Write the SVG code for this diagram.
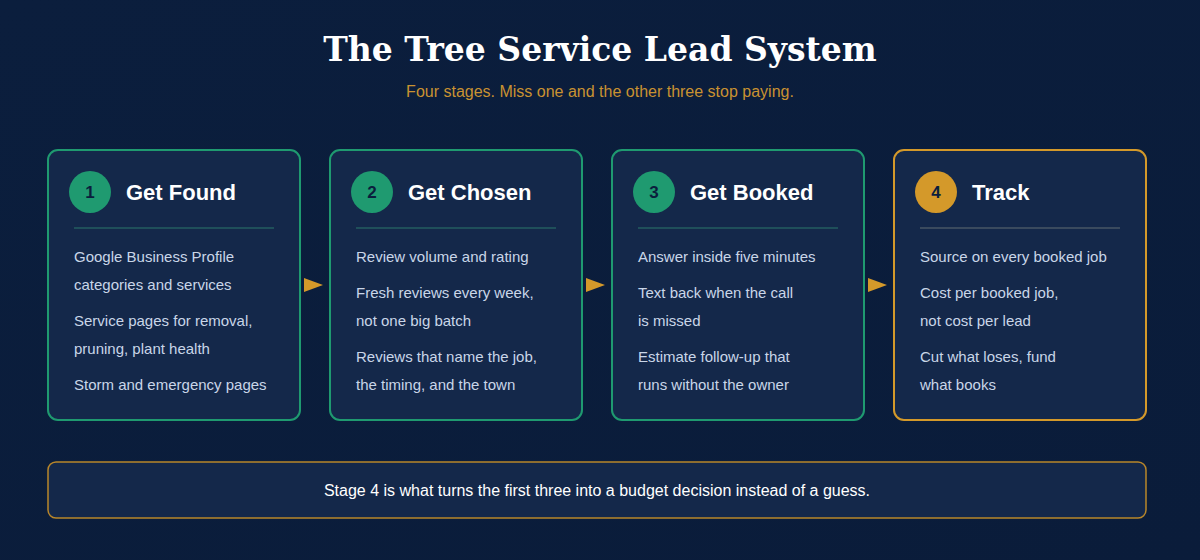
<svg xmlns="http://www.w3.org/2000/svg" width="1200" height="560" viewBox="0 0 1200 560">
<defs>
<linearGradient id="bg" x1="0" y1="0" x2="1" y2="1"><stop offset="0" stop-color="#0b1e3d"/><stop offset="1" stop-color="#0a1c3a"/></linearGradient>
</defs>
<style>
.card{fill:#14284a;stroke-width:2}
.g{stroke:#1f9a70}.o{stroke:#d4992a}
.t{font-family:"Liberation Sans",Arial,sans-serif;font-weight:bold;font-size:22px;fill:#fff}
.n{font-family:"Liberation Sans",Arial,sans-serif;font-weight:bold;font-size:17px;fill:#0b1e3d;text-anchor:middle}
.b{font-family:"Liberation Sans",Arial,sans-serif;font-size:15px;fill:#c9d6e8}
.div{stroke:#1f4f5a;stroke-width:2}
.arr{fill:#d4992a}
</style>
<rect width="1200" height="560" fill="url(#bg)"/>
<text x="600" y="61" text-anchor="middle" font-family="'DejaVu Serif',serif" font-weight="bold" font-size="33" fill="#fff">The Tree Service Lead System</text>
<text x="600" y="97" text-anchor="middle" font-family="'Liberation Sans',Arial,sans-serif" font-size="16" fill="#c99231">Four stages. Miss one and the other three stop paying.</text>
<g id="stage1">
<rect class="card g" x="48" y="150" width="252" height="270" rx="10"/>
<circle cx="90" cy="192" r="21" fill="#1f9a70"/><text class="n" x="90" y="198">1</text>
<text class="t" x="126" y="200">Get Found</text>
<line class="div" x1="74" y1="228" x2="274" y2="228"/>
<text class="b" x="74" y="262">Google Business Profile</text>
<text class="b" x="74" y="290">categories and services</text>
<text class="b" x="74" y="326">Service pages for removal,</text>
<text class="b" x="74" y="354">pruning, plant health</text>
<text class="b" x="74" y="390">Storm and emergency pages</text>
</g>
<g id="stage2">
<rect class="card g" x="330" y="150" width="252" height="270" rx="10"/>
<circle cx="372" cy="192" r="21" fill="#1f9a70"/><text class="n" x="372" y="198">2</text>
<text class="t" x="408" y="200">Get Chosen</text>
<line class="div" x1="356" y1="228" x2="556" y2="228"/>
<text class="b" x="356" y="262">Review volume and rating</text>
<text class="b" x="356" y="298">Fresh reviews every week,</text>
<text class="b" x="356" y="326">not one big batch</text>
<text class="b" x="356" y="362">Reviews that name the job,</text>
<text class="b" x="356" y="390">the timing, and the town</text>
</g>
<g id="stage3">
<rect class="card g" x="612" y="150" width="252" height="270" rx="10"/>
<circle cx="654" cy="192" r="21" fill="#1f9a70"/><text class="n" x="654" y="198">3</text>
<text class="t" x="690" y="200">Get Booked</text>
<line class="div" x1="638" y1="228" x2="838" y2="228"/>
<text class="b" x="638" y="262">Answer inside five minutes</text>
<text class="b" x="638" y="298">Text back when the call</text>
<text class="b" x="638" y="326">is missed</text>
<text class="b" x="638" y="362">Estimate follow-up that</text>
<text class="b" x="638" y="390">runs without the owner</text>
</g>
<g id="stage4">
<rect class="card o" x="894" y="150" width="252" height="270" rx="10"/>
<circle cx="936" cy="192" r="21" fill="#d4992a"/><text class="n" x="936" y="198">4</text>
<text class="t" x="972" y="200">Track</text>
<line x1="920" y1="228" x2="1120" y2="228" stroke="#3a4a5e" stroke-width="2"/>
<text class="b" x="920" y="262">Source on every booked job</text>
<text class="b" x="920" y="298">Cost per booked job,</text>
<text class="b" x="920" y="326">not cost per lead</text>
<text class="b" x="920" y="362">Cut what loses, fund</text>
<text class="b" x="920" y="390">what books</text>
</g>
<g id="connectors">
<polygon class="arr" points="304,278 323,285 304,292"/>
<polygon class="arr" points="586,278 605,285 586,292"/>
<polygon class="arr" points="868,278 887,285 868,292"/>
</g>
<g id="note">
<rect x="48" y="462" width="1098" height="56" rx="8" fill="#14284a" stroke="#b8862a" stroke-width="1.5"/>
<text x="597" y="496" text-anchor="middle" font-family="'Liberation Sans',Arial,sans-serif" font-size="16" fill="#fff">Stage 4 is what turns the first three into a budget decision instead of a guess.</text>
</g>
</svg>
